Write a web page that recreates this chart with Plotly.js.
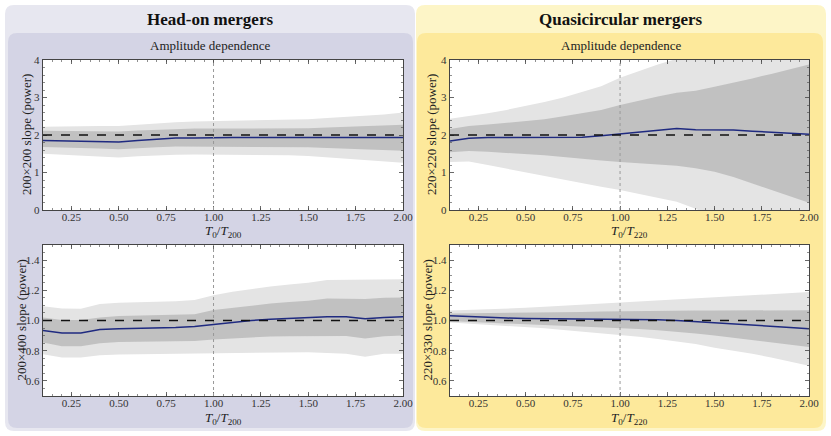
<!DOCTYPE html>
<html><head><meta charset="utf-8">
<script src="https://cdn.plot.ly/plotly-3.0.1.min.js"></script>
<style>html,body{margin:0;padding:0;background:#fff}#chart{width:831px;height:436px}</style>
</head><body><div id="chart"></div>
<script>
// ---- data ----
const T = [0.1,0.2,0.3,0.4,0.5,0.6,0.7,0.8,0.9,1.0,1.1,1.2,1.3,1.4,1.5,1.6,1.7,1.8,1.9,2.0];

// Head-on, 200x200
const ho200_med  = [1.85,1.84,1.83,1.82,1.81,1.85,1.89,1.92,1.92,1.93,1.93,1.93,1.93,1.93,1.93,1.93,1.93,1.93,1.93,1.93];
const ho200_d_hi = [2.11,2.11,2.10,2.10,2.09,2.12,2.14,2.16,2.17,2.17,2.17,2.17,2.17,2.17,2.18,2.20,2.22,2.24,2.26,2.27];
const ho200_d_lo = [1.68,1.67,1.66,1.64,1.62,1.65,1.67,1.69,1.69,1.69,1.69,1.69,1.69,1.69,1.67,1.65,1.63,1.61,1.60,1.58];
const ho200_l_hi = [2.22,2.23,2.23,2.24,2.24,2.28,2.31,2.34,2.36,2.37,2.38,2.38,2.39,2.40,2.42,2.45,2.48,2.52,2.55,2.60];
const ho200_l_lo = [1.50,1.48,1.46,1.43,1.40,1.43,1.46,1.47,1.48,1.48,1.48,1.48,1.47,1.46,1.44,1.40,1.36,1.32,1.29,1.26];

// Head-on, 200x400
const ho400_med  = [0.934,0.917,0.917,0.940,0.945,0.947,0.950,0.953,0.960,0.975,0.990,1.000,1.008,1.015,1.020,1.025,1.025,1.012,1.020,1.025];
const ho400_d_hi = [1.020,1.003,1.003,1.020,1.030,1.032,1.035,1.038,1.042,1.070,1.085,1.100,1.112,1.122,1.130,1.146,1.146,1.143,1.150,1.153];
const ho400_d_lo = [0.855,0.830,0.830,0.850,0.857,0.858,0.860,0.862,0.865,0.875,0.882,0.890,0.894,0.896,0.897,0.898,0.898,0.880,0.895,0.900];
const ho400_l_hi = [1.095,1.080,1.078,1.109,1.117,1.120,1.123,1.127,1.135,1.168,1.190,1.210,1.225,1.238,1.250,1.268,1.270,1.270,1.272,1.273];
const ho400_l_lo = [0.777,0.755,0.755,0.770,0.775,0.776,0.777,0.778,0.779,0.780,0.782,0.784,0.786,0.788,0.790,0.785,0.780,0.760,0.780,0.780];

// Quasicircular, 220x220
const qc220_med  = [1.84,1.91,1.93,1.93,1.93,1.935,1.94,1.94,1.98,2.03,2.09,2.12,2.17,2.14,2.14,2.13,2.10,2.08,2.05,2.02];
const qc220_d_hi = [2.16,2.24,2.28,2.32,2.36,2.42,2.50,2.58,2.67,2.80,2.92,3.03,3.13,3.18,3.29,3.39,3.51,3.63,3.76,3.88];
const qc220_d_lo = [1.54,1.57,1.55,1.52,1.50,1.46,1.41,1.36,1.32,1.28,1.25,1.22,1.18,1.11,1.02,0.88,0.71,0.54,0.37,0.19];
const qc220_l_hi = [2.43,2.50,2.58,2.67,2.77,2.88,3.00,3.14,3.30,3.53,3.71,3.88,4.03,4.20,4.35,4.50,4.65,4.80,4.95,5.10];
const qc220_l_lo = [1.28,1.29,1.20,1.10,1.02,0.92,0.82,0.71,0.62,0.53,0.43,0.33,0.22,0.03,-0.20,-0.40,-0.60,-0.80,-1.00,-1.20];

// Quasicircular, 220x330
const qc330_med  = [1.031,1.025,1.020,1.016,1.013,1.012,1.011,1.010,1.009,1.009,1.007,1.005,1.000,0.993,0.985,0.979,0.971,0.963,0.954,0.945];
const qc330_d_hi = [1.046,1.047,1.048,1.049,1.050,1.052,1.054,1.057,1.060,1.062,1.063,1.064,1.065,1.066,1.066,1.067,1.067,1.068,1.068,1.068];
const qc330_d_lo = [0.996,0.991,0.985,0.980,0.974,0.969,0.963,0.958,0.953,0.949,0.943,0.935,0.925,0.914,0.900,0.885,0.870,0.855,0.840,0.824];
const qc330_l_hi = [1.066,1.070,1.075,1.080,1.084,1.091,1.098,1.105,1.112,1.118,1.124,1.130,1.137,1.143,1.150,1.157,1.164,1.172,1.180,1.188];
const qc330_l_lo = [0.987,0.980,0.973,0.965,0.958,0.948,0.937,0.926,0.916,0.906,0.893,0.878,0.862,0.845,0.820,0.800,0.780,0.755,0.730,0.700];

const refs = [2, 1, 2, 1];
const vlineX = 1.0;
const yTitles = ['200×200 slope (power)','200×400 slope (power)','220×220 slope (power)','220×330 slope (power)'];
const xTitles = ['<i>T</i><sub>0</sub>/<i>T</i><sub>200</sub>','<i>T</i><sub>0</sub>/<i>T</i><sub>200</sub>','<i>T</i><sub>0</sub>/<i>T</i><sub>220</sub>','<i>T</i><sub>0</sub>/<i>T</i><sub>220</sub>'];
const headers = ['Head-on mergers','Quasicircular mergers'];
const subHeaders = ['Amplitude dependence','Amplitude dependence'];

// ---- build ----
const W = 831, H = 436;
const FONT = 'Liberation Serif, DejaVu Serif, serif';
const px = v => v / W, py = v => 1 - v / H;

const panels = [
  {med:ho200_med, dh:ho200_d_hi, dl:ho200_d_lo, lh:ho200_l_hi, ll:ho200_l_lo, box:[43,403,60,210], yr:[0,4], yd:1, ym:0.2},
  {med:ho400_med, dh:ho400_d_hi, dl:ho400_d_lo, lh:ho400_l_hi, ll:ho400_l_lo, box:[43,403,245,396], yr:[0.5,1.5], yd:0.2, ym:0.05},
  {med:qc220_med, dh:qc220_d_hi, dl:qc220_d_lo, lh:qc220_l_hi, ll:qc220_l_lo, box:[450,809,60,210], yr:[0,4], yd:1, ym:0.2},
  {med:qc330_med, dh:qc330_d_hi, dl:qc330_d_lo, lh:qc330_l_hi, ll:qc330_l_lo, box:[450,809,245,396], yr:[0.5,1.5], yd:0.2, ym:0.05},
];

function rrect(x0,y0,x1,y1,r){
  const rx=r/W, ry=r/H;
  const X0=px(x0),X1=px(x1),Y0=py(y0),Y1=py(y1);
  return `M ${X0+rx},${Y0} L ${X1-rx},${Y0} Q ${X1},${Y0} ${X1},${Y0-ry} L ${X1},${Y1+ry} Q ${X1},${Y1} ${X1-rx},${Y1} L ${X0+rx},${Y1} Q ${X0},${Y1} ${X0},${Y1+ry} L ${X0},${Y0-ry} Q ${X0},${Y0} ${X0+rx},${Y0} Z`;
}

const shapes = [
  {type:'path', xref:'paper', yref:'paper', path:rrect(5,5,415,431,9), fillcolor:'#e7e7f0', line:{width:0}, layer:'below'},
  {type:'path', xref:'paper', yref:'paper', path:rrect(8,33,413,428,9), fillcolor:'#d4d4e5', line:{width:0}, layer:'below'},
  {type:'path', xref:'paper', yref:'paper', path:rrect(416,5,826,431,9), fillcolor:'#fdf5c7', line:{width:0}, layer:'below'},
  {type:'path', xref:'paper', yref:'paper', path:rrect(417,33,823,428,9), fillcolor:'#fde99b', line:{width:0}, layer:'below'},
];
const traces = [];
const annotations = [];
const layout = {width:W, height:H, margin:{l:0,r:0,t:0,b:0}, paper_bgcolor:'#ffffff', plot_bgcolor:'#ffffff',
  showlegend:false, font:{family:FONT, color:'#333'}, shapes, annotations};

panels.forEach((p,i)=>{
  const n = i+1, xa = 'x'+(n===1?'':n), ya = 'y'+(n===1?'':n);
  const xk = 'xaxis'+(n===1?'':n), yk = 'yaxis'+(n===1?'':n);
  const [bx0,bx1,by0,by1] = p.box;
  const common = {showgrid:false, zeroline:false, showline:true, linecolor:'#444', linewidth:1.2, mirror:'allticks',
    ticks:'inside', ticklen:4, tickwidth:0.8, tickcolor:'#444', tickfont:{family:FONT, size:11, color:'#333'}};
  layout[xk] = Object.assign({}, common, {domain:[px(bx0),px(bx1)], range:[0.1,2.0], anchor:ya, ticklabelstandoff:-3,
    tickvals:[0.25,0.5,0.75,1.0,1.25,1.5,1.75,2.0], ticktext:['0.25','0.50','0.75','1.00','1.25','1.50','1.75','2.00'],
    minor:{dtick:0.05, tick0:0, ticks:'inside', ticklen:2, tickwidth:0.6, tickcolor:'#444'}});
  layout[yk] = Object.assign({}, common, {domain:[py(by1),py(by0)], range:p.yr, anchor:xa, dtick:p.yd, tick0:0,
    tickformat: p.yd<1 ? '.1f' : 'd',
    minor:{dtick:p.ym, tick0:0, ticks:'inside', ticklen:2, tickwidth:0.6, tickcolor:'#444'}});
  // white plot-area background (above the paper boxes)
  shapes.push({type:'rect', xref:xa+' domain', yref:ya+' domain', x0:0, x1:1, y0:0, y1:1, fillcolor:'#ffffff', line:{width:0}, layer:'below'});
  const base = {x:T, xaxis:xa, yaxis:ya, mode:'lines', hoverinfo:'skip'};
  traces.push(Object.assign({}, base, {y:p.ll, line:{width:0, color:'rgba(0,0,0,0)'}}));
  traces.push(Object.assign({}, base, {y:p.lh, line:{width:0, color:'rgba(0,0,0,0)'}, fill:'tonexty', fillcolor:'#e4e4e4'}));
  traces.push(Object.assign({}, base, {y:p.dl, line:{width:0, color:'rgba(0,0,0,0)'}}));
  traces.push(Object.assign({}, base, {y:p.dh, line:{width:0, color:'rgba(0,0,0,0)'}, fill:'tonexty', fillcolor:'#c1c1c1'}));
  traces.push(Object.assign({}, base, {y:p.med, line:{width:1.5, color:'#1f2a80'}}));
  shapes.push({type:'line', xref:xa, yref:ya+' domain', x0:vlineX, x1:vlineX, y0:0, y1:1, line:{color:'#999', width:1, dash:'dot'}, layer:'above'});
  shapes.push({type:'line', xref:xa+' domain', yref:ya, x0:0, x1:1, y0:refs[i], y1:refs[i], line:{color:'#111', width:1.4, dash:'dash'}, layer:'above'});
  // axis titles
  const isTop = by0 < 100;
  annotations.push({xref:'paper', yref:'paper', x:px((bx0+bx1)/2), y:py(isTop?222:409), text:xTitles[i], showarrow:false,
    font:{family:FONT, size:13, color:'#222'}, xanchor:'center', yanchor:'top', borderpad:0});
  const ytx = (i===0?26:(i===1?21:(i===2?431:427)));
  annotations.push({xref:'paper', yref:'paper', x:px(ytx), y:py((by0+by1)/2), text:yTitles[i], showarrow:false, textangle:-90,
    font:{family:FONT, size:13, color:'#222'}, xanchor:'center', yanchor:'middle'});
});

// headers
[[210,headers[0]],[621,headers[1]]].forEach(([cx,t])=>{
  annotations.push({xref:'paper', yref:'paper', x:px(cx), y:py(19), text:'<b>'+t+'</b>', showarrow:false,
    font:{family:FONT, size:17, color:'#111'}, xanchor:'center', yanchor:'middle'});
});
[[210,subHeaders[0]],[621,subHeaders[1]]].forEach(([cx,t])=>{
  annotations.push({xref:'paper', yref:'paper', x:px(cx), y:py(45), text:t, showarrow:false,
    font:{family:FONT, size:13, color:'#222'}, xanchor:'center', yanchor:'middle'});
});

Plotly.newPlot('chart', traces, layout, {displayModeBar:false, staticPlot:true});
</script></body></html>
